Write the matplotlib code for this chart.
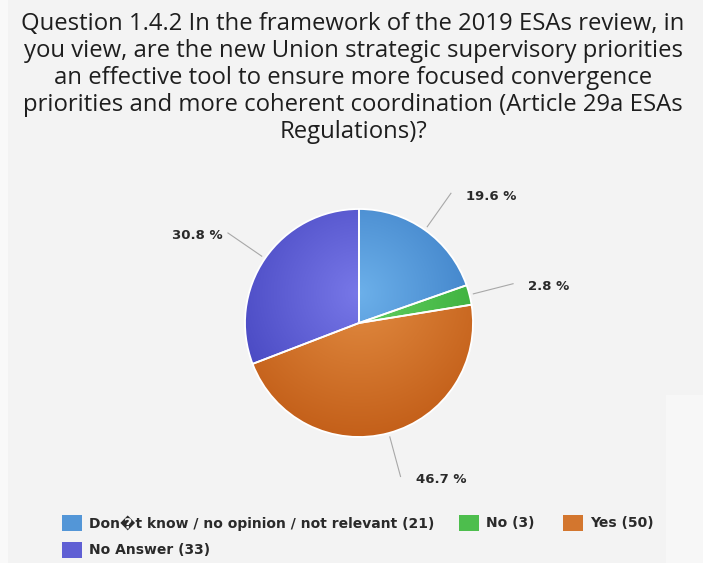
import numpy as np
import matplotlib.pyplot as plt
from matplotlib.colors import to_rgb
from matplotlib.patches import Rectangle

# survey answers
categories = ['Don\ufffdt know / no opinion / not relevant', 'No', 'Yes', 'No Answer']
counts = [21, 3, 50, 33]
light_colors = ['#6cb0ea', '#62d062', '#e28c42', '#7878e8']
dark_colors = ['#3a7cc4', '#38ac38', '#c4601a', '#4646c0']
title_lines = [
    'Question 1.4.2 In the framework of the 2019 ESAs review, in',
    'you view, are the new Union strategic supervisory priorities',
    'an effective tool to ensure more focused convergence',
    'priorities and more coherent coordination (Article 29a ESAs',
    'Regulations)?',
]

W, H = 703, 563
cx, cy, R = 359, 323, 114


def up(y):
    # pixel rows counted from the top -> axis units
    return H - y


fig = plt.figure(figsize=(W / 100, H / 100), dpi=100, facecolor='#f3f3f3')
ax = fig.add_axes([0, 0, 1, 1])
ax.axis('off')

# lighter margins of the panel
ax.add_patch(Rectangle((0, 0), 8, H, color='#f9f9f9', lw=0, zorder=0))
ax.add_patch(Rectangle((666, 0), W - 666, up(395), color='#f7f7f7', lw=0, zorder=0))

# title
for i, line in enumerate(title_lines):
    ax.text(353, up(24 + 27 * i), line, ha='center', va='center',
            fontsize=17.2, family='Open Sans', color='#1e1e1e')

wedges, _ = ax.pie(counts, colors=dark_colors, startangle=90, counterclock=False,
                   center=(cx, up(cy)), radius=R,
                   wedgeprops=dict(edgecolor='white', linewidth=1.3))

# radial shading on each slice
gx = np.linspace(cx - R, cx + R, 300)
gy = np.linspace(up(cy) - R, up(cy) + R, 300)
X, Y = np.meshgrid(gx, gy)
dist = np.hypot(X - cx, Y - (up(cy) + 30)) / (R * 1.25)
dist = np.clip(dist, 0, 1)[..., None]
for w, lc, dc in zip(wedges, light_colors, dark_colors):
    img = np.array(to_rgb(lc)) * (1 - dist) + np.array(to_rgb(dc)) * dist
    im = ax.imshow(img, extent=(gx[0], gx[-1], gy[0], gy[-1]), origin='lower',
                   zorder=w.get_zorder() + 0.1, interpolation='bilinear')
    im.set_clip_path(w)
    w.set_zorder(w.get_zorder() + 0.2)
    w.set_facecolor('none')

# percentage labels with connectors
total = sum(counts)
for w, c in zip(wedges, counts):
    mid = np.deg2rad((w.theta1 + w.theta2) / 2)
    dx, dy = np.cos(mid), np.sin(mid)
    x0, y0 = cx + (R + 4) * dx, up(cy) + (R + 4) * dy
    x1, y1 = cx + (R + 45) * dx, up(cy) + (R + 45) * dy
    ax.plot([x0, x1], [y0, y1], color='#a8a8a8', lw=0.8, zorder=5)
    label = f'{c / total * 100:.1f} %'
    if dx >= 0:
        ax.text(x1 + 15, y1 - 3, label, ha='left', va='center',
                fontsize=9.5, fontweight='bold', color='#2a2a2a')
    else:
        ax.text(x1 - 5, y1 - 3, label, ha='right', va='center',
                fontsize=9.5, fontweight='bold', color='#2a2a2a')

# legend
legend_pos = [(62, 523), (459, 523), (563, 523), (62, 550)]
for (lx, ly), cat, c, lc, dc in zip(legend_pos, categories, counts,
                                    light_colors, dark_colors):
    col = (np.array(to_rgb(lc)) + np.array(to_rgb(dc))) / 2
    ax.add_patch(Rectangle((lx, up(ly) - 8), 20, 16, color=col, lw=0, zorder=5))
    ax.text(lx + 27, up(ly), f'{cat} ({c})', ha='left', va='center',
            fontsize=10, fontweight='bold', color='#2a2a2a')

# pie() and imshow() change the limits, so fix them last
ax.set_xlim(0, W)
ax.set_ylim(0, H)
ax.set_aspect('equal')

fig.savefig('out.png', dpi=100, facecolor=fig.get_facecolor())
